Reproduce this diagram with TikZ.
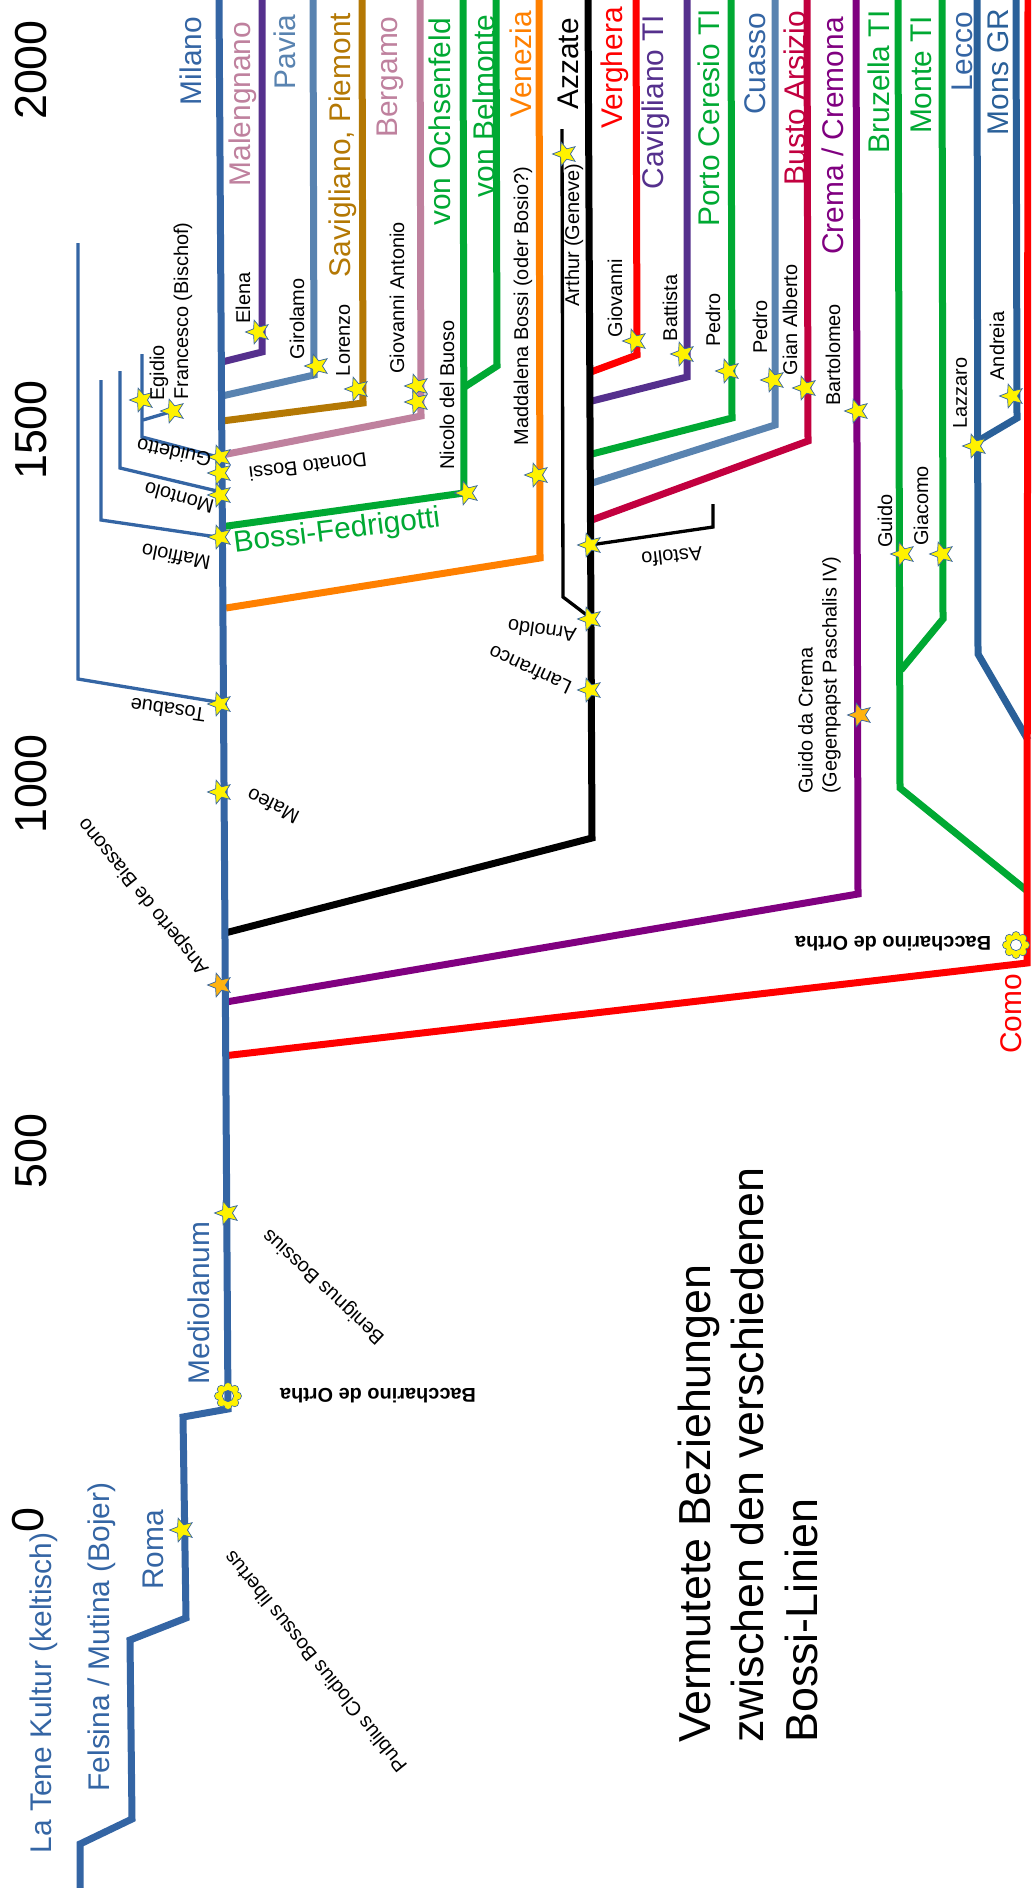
\documentclass[tikz,border=0pt]{standalone}
\usepackage{fontspec}
\setmainfont{Liberation Sans}
\usetikzlibrary{shapes.geometric}
\definecolor{mblue}{HTML}{3465A4}
\definecolor{dpurple}{HTML}{55308D}
\definecolor{mauve}{HTML}{BF819E}
\definecolor{steel}{HTML}{5983B0}
\definecolor{brownc}{HTML}{B47804}
\definecolor{greenc}{HTML}{00A933}
\definecolor{orangec}{HTML}{FF8000}
\definecolor{redc}{HTML}{FF0000}
\definecolor{crimsonc}{HTML}{C2003F}
\definecolor{purplec}{HTML}{800080}
\definecolor{dblue}{HTML}{2A6099}
\definecolor{starorange}{HTML}{FFB30F}
\definecolor{staredge}{HTML}{3465A4}
\newcommand\drawflower[1]{%
  \foreach \a in {0,45,...,315}{\filldraw[fill=yellow, draw=staredge, line width=0.6bp] (#1) ++(\a:9.5bp) circle (4bp);}
  \draw[yellow, line width=4.6bp] (#1) circle (7.95bp);
  \draw[staredge, line width=0.6bp] (#1) circle (5.6bp);
}
\begin{document}
\begin{tikzpicture}[x=1bp, y=-1bp,
  thickln/.style={line width=7bp},
  thinln/.style={line width=3.3bp},
  bstar/.style={star, star points=5, star point ratio=2.3, minimum size=25bp, inner sep=0pt, fill=yellow, draw=staredge, line width=0.7bp, shape border rotate=90},
  ostar/.style={bstar, fill=starorange},
  lbl/.style={font=\fontsize{20}{24}\selectfont, inner sep=0pt},
  vlbl/.style={lbl, rotate=90},
  plc/.style={font=\fontsize{30}{36}\selectfont, inner sep=0pt, rotate=90},
  yrl/.style={font=\fontsize{45}{54}\selectfont, inner sep=0pt, rotate=90},
  ttl/.style={font=\fontsize{45}{54}\selectfont, inner sep=0pt, rotate=90, anchor=base west},
  bold/.style={font=\fontsize{20}{24}\selectfont\bfseries, inner sep=0pt}]
\useasboundingbox (0,0) rectangle (1031,1888);
\fill[white] (0,0) rectangle (1031,1888);
\clip (0,0) rectangle (1031,1888);

% ---------- thin left branches (Milano) ----------
\draw[thinln, mblue] (78,243) -- (78,679) -- (217,702);
\draw[thinln, mblue] (101,380) -- (101,520) -- (217,537);
\draw[thinln, mblue] (120,371) -- (120,468) -- (217,491);
\draw[thinln, mblue] (142,354) -- (142,437) -- (218,457);
\draw[thinln, mblue] (143,420) -- (170,412);

% ---------- branches ----------
\draw[thickln, dpurple] (222,362) -- (262,352) -- (262,0);
\draw[thickln, steel] (222,396) -- (314,375) -- (313,0);
\draw[thickln, brownc] (222,421) -- (363,403) -- (362,0);
\draw[thickln, mauve] (222,455) -- (421,416) -- (420,0);
\draw[thickln, greenc] (220,527) -- (464,493) -- (463,0);
\draw[thickln, greenc] (463,388) -- (497,366) -- (496,0);
\draw[thickln, orangec] (226,608) -- (540,558) -- (539,0);
\draw[thinln, black] (562,129) -- (563,597) -- (588,616);
\draw[thinln, black] (590,545) -- (713,527) -- (713,504);
\draw[thickln, redc] (588,373) -- (637,355) -- (636,0);
\draw[thickln, dpurple] (588,402) -- (687,377) -- (687,0);
\draw[thickln, greenc] (588,455) -- (732,418) -- (731,0);
\draw[thickln, steel] (589,484) -- (775,425) -- (775,0);
\draw[thickln, crimsonc] (589,521) -- (808,441) -- (807,0);
\draw[thickln, black] (225,933) -- (592,838) -- (588,0);
\draw[thickln, purplec] (226,1002) -- (858,894) -- (856,0);
\draw[thickln, greenc] (1026,890) -- (900,788) -- (898,0);
\draw[thickln, greenc] (901,670) -- (943,619) -- (942,0);
\draw[thickln, dblue] (1028,740) -- (978,654) -- (977,0);
\draw[thickln, dblue] (978,441) -- (1017,418) -- (1016,0);
\draw[thickln, redc] (223,1056) -- (1027,963) -- (1028,0);

% ---------- main line ----------
\draw[thickln, mblue] (219,0) -- (228,1409) -- (183,1417) -- (186,1618) -- (130,1640) -- (132,1819) -- (80,1844) -- (80,1890);

% ---------- flowers ----------
\coordinate (flMed) at (228,1396);
\coordinate (flComo) at (1016,945);
\drawflower{flMed}
\drawflower{flComo}

% ---------- stars ----------
\node[bstar] (sElena) at (258,332) {};
\node[bstar] (sGirolamo) at (317,366) {};
\node[bstar] (sLorenzo) at (357,389) {};
\node[bstar] (sGA1) at (417,386) {};
\node[bstar] (sGA2) at (417,402) {};
\node[bstar] (sEgidio) at (142,400) {};
\node[bstar] (sFrancesco) at (173,411) {};
\node[bstar] (sGuidetto) at (220,457) {};
\node[bstar] (sDonato) at (220,473) {};
\node[bstar] (sMontolo) at (220,495) {};
\node[bstar] (sMaffiolo) at (220,537) {};
\node[bstar] (sNicolo) at (467,493) {};
\node[bstar] (sMaddalena) at (537,475) {};
\node[bstar] (sArthur) at (565,154) {};
\node[bstar] (sGiovanni) at (635,341) {};
\node[bstar] (sBattista) at (683,354) {};
\node[bstar] (sPedroA) at (728,371) {};
\node[bstar] (sPedroB) at (773,380) {};
\node[bstar] (sGian) at (805,388) {};
\node[bstar] (sBartolomeo) at (857,411) {};
\node[bstar] (sAstolfo) at (590,545) {};
\node[bstar] (sArnoldo) at (590,619) {};
\node[bstar] (sLanfranco) at (590,690) {};
\node[bstar] (sGuido) at (903,554) {};
\node[bstar] (sGiacomo) at (942,554) {};
\node[bstar] (sLazzaro) at (975,446) {};
\node[bstar] (sAndreia) at (1012,396) {};
\node[bstar] (sTosabue) at (220,704) {};
\node[bstar] (sMafeo) at (220,792) {};
\node[bstar] (sBenignus) at (227,1213) {};
\node[bstar] (sPublius) at (182,1530) {};
\node[ostar] (sAnsperto) at (220,985) {};
\node[ostar] (sGuidoCrema) at (860,715) {};

% ---------- year labels ----------
\node[yrl] (y2000) at (31,70) {2000};
\node[yrl] (y1500) at (31,430) {1500};
\node[yrl] (y1000) at (31,784) {1000};
\node[yrl] (y500) at (31,1151) {500};
\node[yrl] (y0) at (28,1520) {0};

% ---------- place labels ----------
\node[plc, text=mblue] (tMilano) at (191,61) {Milano};
\node[plc, text=mauve] (tMalengnano) at (243,104) {Malengnano};
\node[plc, text=steel] (tPavia) at (285,52) {Pavia};
\node[plc, text=brownc] (tSavigliano) at (343,145) {Savigliano, Piemont};
\node[plc, text=mauve] (tBergamo) at (390,77) {Bergamo};
\node[plc, text=greenc] (tOchsenfeld) at (440,122) {von Ochsenfeld};
\node[plc, text=greenc] (tBelmonte) at (484,106) {von Belmonte};
\node[plc, text=orangec] (tVenezia) at (521,64) {Venezia};
\node[plc, text=black] (tAzzate) at (568,64) {Azzate};
\node[plc, text=redc] (tVerghera) at (615,68) {Verghera};
\node[plc, text=dpurple] (tCavigliano) at (656,102) {Cavigliano TI};
\node[plc, text=greenc] (tPorto) at (709,118) {Porto Ceresio TI};
\node[plc, text=mblue] (tCuasso) at (755,64) {Cuasso};
\node[plc, text=crimsonc] (tBusto) at (795,98) {Busto Arsizio};
\node[plc, text=purplec] (tCrema) at (833,136) {Crema / Cremona};
\node[plc, text=greenc] (tBruzella) at (879,82) {Bruzella TI};
\node[plc, text=greenc] (tMonte) at (921,75) {Monte TI};
\node[plc, text=mblue] (tLecco) at (962,52) {Lecco};
\node[plc, text=dblue] (tMons) at (998,72) {Mons GR};
\node[plc, text=redc] (tComo) at (1011,1014) {Como};
\node[plc, text=mblue] (tMediolanum) at (199,1303) {Mediolanum};
\node[plc, text=mblue] (tRoma) at (153,1550) {Roma};
\node[plc, text=mblue] (tFelsina) at (102,1637) {Felsina / Mutina (Bojer)};
\node[plc, text=mblue] (tLaTene) at (44,1693) {La Tene Kultur (keltisch)};
\node[font=\fontsize{30}{36}\selectfont, inner sep=0pt, text=greenc, rotate=7] (tFedrigotti) at (337,532) {Bossi-Fedrigotti};

% ---------- person labels (vertical) ----------
\node[vlbl] (lElena) at (243,298) {Elena};
\node[vlbl] (lGirolamo) at (297,319) {Girolamo};
\node[vlbl] (lLorenzo) at (343,340) {Lorenzo};
\node[vlbl] (lGA) at (397,298) {Giovanni Antonio};
\node[vlbl] (lNicolo) at (447,395) {Nicolo del Buoso};
\node[vlbl] (lMaddalena) at (523,306) {Maddalena Bossi (oder Bosio?)};
\node[vlbl] (lArthur) at (574,235) {Arthur (Geneve)};
\node[vlbl] (lGiovanni) at (615,298) {Giovanni};
\node[vlbl] (lBattista) at (670,308) {Battista};
\node[vlbl] (lPedroA) at (713,320) {Pedro};
\node[vlbl] (lPedroB) at (760,327) {Pedro};
\node[vlbl] (lGian) at (790,320) {Gian Alberto};
\node[vlbl] (lBartolomeo) at (833,355) {Bartolomeo};
\node[vlbl] (lGuido) at (885,521) {Guido};
\node[vlbl] (lGiacomo) at (921,506) {Giacomo};
\node[vlbl] (lLazzaro) at (960,393) {Lazzaro};
\node[vlbl] (lAndreia) at (997,346) {Andreia};
\node[vlbl] (lEgidio) at (159,373) {Egidio};
\node[vlbl] (lFrancesco) at (183,311) {Francesco (Bischof)};
\node[vlbl, align=left, anchor=north west] (lGuidoCrema) at (798,794) {Guido da Crema\\(Gegenpapst Paschalis IV)};

% ---------- person labels (tilted) ----------
\node[lbl, rotate=172] (lTosabue) at (168,710) {Tosabue};
\node[lbl, rotate=169] (lMaffiolo) at (176,557) {Maffiolo};
\node[lbl, rotate=165] (lMontolo) at (179,498) {Montolo};
\node[lbl, rotate=168] (lGuidetto) at (174,453) {Guidetto};
\node[lbl, rotate=187] (lDonato) at (308,467) {Donato Bossi};
\node[lbl, rotate=153] (lMafeo) at (273,806) {Mafeo};
\node[lbl, rotate=129] (lAnsperto) at (144,896) {Ansperto de Biassono};
\node[lbl, rotate=186] (lAstolfo) at (672,557) {Astolfo};
\node[lbl, rotate=172] (lArnoldo) at (542,631) {Arnoldo};
\node[lbl, rotate=155] (lLanfranco) at (530,670) {Lanfranco};
\node[lbl, rotate=137] (lBenignus) at (324,1286) {Benignus Bossius};
\node[lbl, rotate=129] (lPublius) at (315,1662) {Publius Clodius Bossus libertus};
\node[bold, rotate=180] (lBacchA) at (378,1396) {Baccharino de Ortha};
\node[bold, rotate=180] (lBacchB) at (893,944) {Baccharino de Ortha};

% ---------- title ----------
\node[ttl] (title1) at (710,1743) {Vermutete Beziehungen};
\node[ttl] (title2) at (763,1743) {zwischen den verschiedenen};
\node[ttl] (title3) at (817,1743) {Bossi-Linien};
\end{tikzpicture}
\end{document}
